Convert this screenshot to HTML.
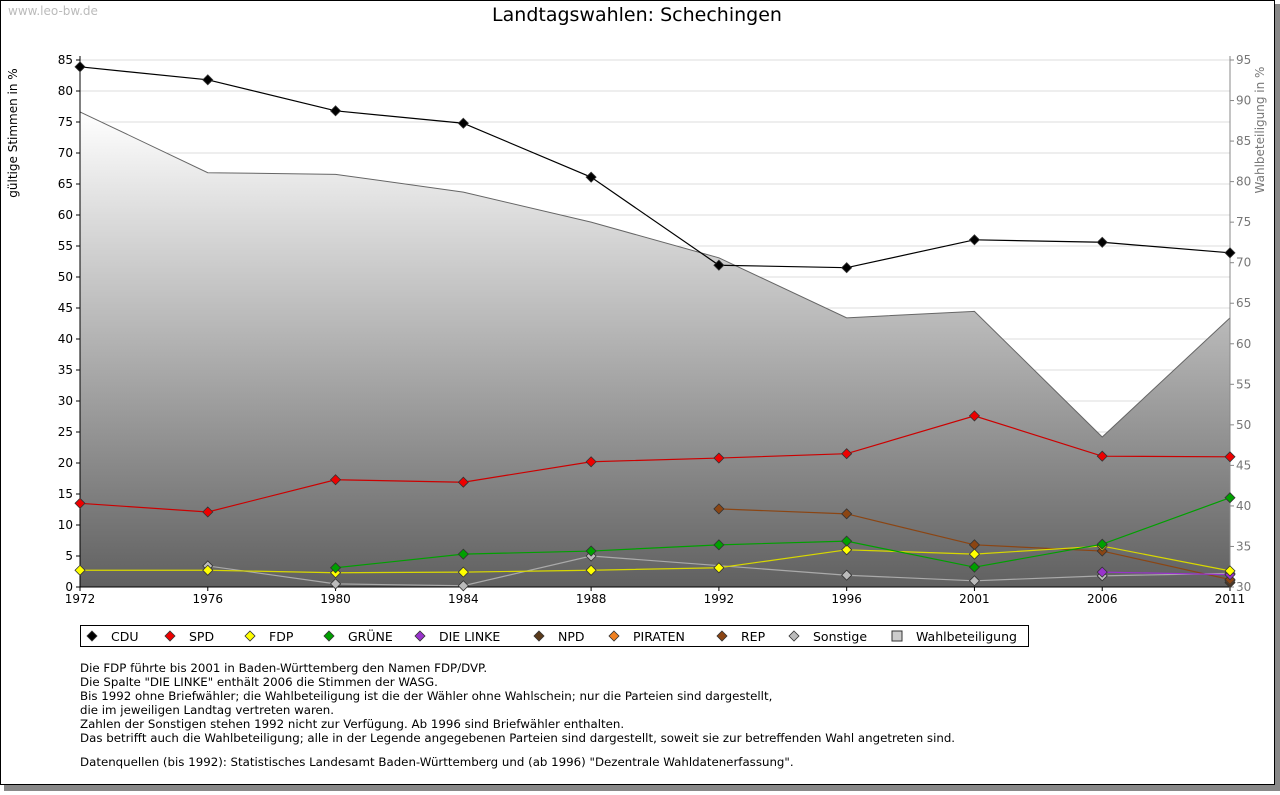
<!DOCTYPE html>
<html><head><meta charset="utf-8"><style>
body{margin:0;background:#fff;width:1280px;height:791px;overflow:hidden;font-family:"DejaVu Sans","Liberation Sans",sans-serif;}
</style></head><body>
<svg id="chart" width="1280" height="791" xmlns="http://www.w3.org/2000/svg">
<defs>
<linearGradient id="g" x1="0" y1="0" x2="0" y2="1"><stop offset="0" stop-color="#ffffff"/><stop offset="1" stop-color="#606060"/></linearGradient>
</defs>
<rect x="4" y="4" width="1276" height="787" fill="#888"/>
<rect x="0.5" y="0.5" width="1274" height="784" fill="#fff" stroke="#000"/>
<text x="8" y="15" font-size="12" fill="#bbb">www.leo-bw.de</text>
<text x="637" y="21" font-size="19" text-anchor="middle" fill="#000">Landtagswahlen: Schechingen</text>
<text transform="translate(17,133) rotate(-90)" font-size="12" text-anchor="middle">gültige Stimmen in %</text>
<text transform="translate(1264,130) rotate(-90)" font-size="12" text-anchor="middle" fill="#777">Wahlbeteiligung in %</text>
<g id="grid"></g><g id="area"></g><g id="axes"></g><g id="series"></g>
<g>
<rect x="80.5" y="625.5" width="948" height="21" fill="#fff" stroke="#000"/>
<g id="legend"></g>
</g>
<g font-size="11.8" fill="#000">
<text x="80" y="672">Die FDP führte bis 2001 in Baden-Württemberg den Namen FDP/DVP.</text>
<text x="80" y="686">Die Spalte "DIE LINKE" enthält 2006 die Stimmen der WASG.</text>
<text x="80" y="700">Bis 1992 ohne Briefwähler; die Wahlbeteiligung ist die der Wähler ohne Wahlschein; nur die Parteien sind dargestellt,</text>
<text x="80" y="714">die im jeweiligen Landtag vertreten waren.</text>
<text x="80" y="728">Zahlen der Sonstigen stehen 1992 nicht zur Verfügung. Ab 1996 sind Briefwähler enthalten.</text>
<text x="80" y="742">Das betrifft auch die Wahlbeteiligung; alle in der Legende angegebenen Parteien sind dargestellt, soweit sie zur betreffenden Wahl angetreten sind.</text>
<text x="80" y="766">Datenquellen (bis 1992): Statistisches Landesamt Baden-Württemberg und (ab 1996) "Dezentrale Wahldatenerfassung".</text>
</g>
</svg>
<script>
const years=["1972","1976","1980","1984","1988","1992","1996","2001","2006","2011"];
const cdu=[83.9,81.8,76.8,74.8,66.1,51.9,51.5,56.0,55.6,53.9];
const spd=[13.5,12.1,17.3,16.9,20.2,20.8,21.5,27.6,21.1,21.0];
const fdp=[2.7,2.7,2.3,2.4,2.7,3.1,6.0,5.3,6.6,2.6];
const gruene=[null,null,3.1,5.3,5.8,6.8,7.4,3.2,6.9,14.4];
const linke=[null,null,null,null,null,null,null,null,2.4,2.0];
const npd=[null,null,null,null,null,null,null,null,null,0.7];
const piraten=[null,null,null,null,null,null,null,null,null,1.0];
const rep=[null,null,null,null,null,12.6,11.8,6.8,5.8,1.2];
const sonstige=[null,3.4,0.5,0.2,5.0,null,1.9,1.0,1.8,2.2];
const turnout=[88.6,81.1,80.9,78.7,75.0,70.6,63.2,64.0,48.5,63.2];
const leftTicks=[0,5,10,15,20,25,30,35,40,45,50,55,60,65,70,75,80,85];
const rightTicks=[30,35,40,45,50,55,60,65,70,75,80,85,90,95];

const X0=80,X1=1230,Y0=587,Y1=60;
const xs=i=>X0+(X1-X0)*i/(years.length-1);
const yl=v=>Y0-(Y0-Y1)*v/85;
const yr=v=>Y0-(Y0-Y1)*(v-30)/65;
const NS="http://www.w3.org/2000/svg";
function mk(tag,attrs,parent){const e=document.createElementNS(NS,tag);for(const k in attrs)e.setAttribute(k,attrs[k]);parent.appendChild(e);return e;}
const grid=document.getElementById('grid'),axes=document.getElementById('axes'),area=document.getElementById('area'),ser=document.getElementById('series');
leftTicks.forEach(t=>{
 const l=mk('line',{x1:X0,x2:X1,y1:yl(t),y2:yl(t),stroke:'#ddd'},grid);
 
 
 mk('line',{x1:X0-4,x2:X0,y1:yl(t),y2:yl(t),stroke:'#000'},axes);
 const tx=mk('text',{x:X0-7,y:yl(t)+4,'font-size':12,'text-anchor':'end'},axes);tx.textContent=t;
 
 
});
rightTicks.forEach(t=>{
 mk('line',{x1:X1,x2:X1+4,y1:yr(t),y2:yr(t),stroke:'#888'},axes);
 const tx=mk('text',{x:X1+6,y:yr(t)+4,'font-size':12,fill:'#777'},axes);tx.textContent=t;
 
 
});
let d='M'+X0+','+Y0;
turnout.forEach((v,i)=>{d+=' L'+xs(i)+','+yr(v);});
d+=' L'+X1+','+Y0+' Z';
const ar=mk('path',{d:d,fill:'url(#g)',stroke:'none'},area);


const tl=mk('polyline',{points:turnout.map((v,i)=>xs(i)+','+yr(v)).join(' '),fill:'none',stroke:'#666'},area);


mk('line',{x1:X0,x2:X0,y1:Y1-4,y2:Y0,stroke:'#000'},axes);
mk('line',{x1:X1,x2:X1,y1:Y1-4,y2:Y0,stroke:'#888'},axes);
mk('line',{x1:X0,x2:X1,y1:Y0,y2:Y0,stroke:'#000'},axes);
years.forEach((y,i)=>{
 mk('line',{x1:xs(i),x2:xs(i),y1:Y0,y2:Y0+4,stroke:'#000'},axes);
 const tx=mk('text',{x:xs(i),y:Y0+16,'font-size':12,'text-anchor':'middle'},axes);tx.textContent=y;
 
 
});
const series=[["sonstige",sonstige,"#bbb","#aaa"],["npd",npd,"#5a3a1a","#5a3a1a"],["piraten",piraten,"#f08020","#f08020"],["rep",rep,"#8b4513","#8b4513"],["linke",linke,"#9933cc","#9933cc"],["fdp",fdp,"#ffff00","#d8d800"],["gruene",gruene,"#00a000","#00a000"],["spd",spd,"#ee0000","#cc0000"],["cdu",cdu,"#000","#000"]];
series.forEach(([n,vals,fill,stroke])=>{
 const g=mk('g',{},ser);
 
 
 const pts=[];vals.forEach((v,i)=>{if(v!=null)pts.push([xs(i),yl(v)]);});
 const pl=mk('polyline',{points:pts.map(p=>p.join(',')).join(' '),fill:'none',stroke:stroke,'stroke-width':1.2},g);
 
 
 vals.forEach((v,i)=>{if(v==null)return;const x=xs(i),y=yl(v);
  const m=mk('path',{d:`M${x},${y-5} L${x+5},${y} L${x},${y+5} L${x-5},${y} Z`,fill:fill,stroke:'#333','stroke-width':0.8},g);
  
  
 });
});
const leg=document.getElementById('legend');
const items=[["CDU","#000",92],["SPD","#ee0000",170],["FDP","#ffff00",250],["GRÜNE","#00a000",329],["DIE LINKE","#9933cc",420],["NPD","#5a3a1a",539],["PIRATEN","#f08020",614],["REP","#8b4513",722],["Sonstige","#bbb",794],["Wahlbeteiligung","#ccc",897]];
items.forEach(([lab,c,x])=>{
 const g=mk('g',{},leg);
 
 
 if(lab==="Wahlbeteiligung") mk('rect',{x:x-5,y:631,width:10,height:10,fill:c,stroke:'#333'},g);
 else mk('path',{d:`M${x},${631} L${x+5},${636} L${x},${641} L${x-5},${636} Z`,fill:c,stroke:'#333','stroke-width':0.8},g);
 const t=mk('text',{x:x+19,y:641,'font-size':12.5},g);t.textContent=lab;
});
</script>
</body></html>
